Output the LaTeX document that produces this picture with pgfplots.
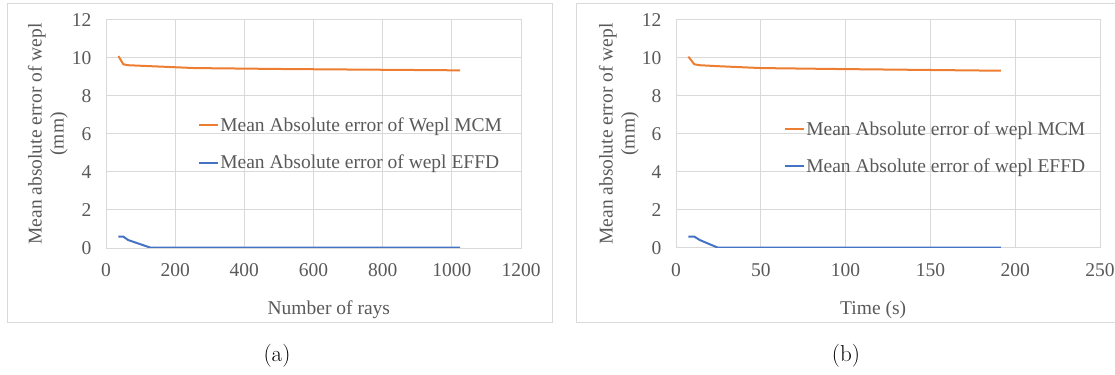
\documentclass[border=0pt]{standalone}
\usepackage{pgfplots}
\pgfplotsset{compat=1.18}
\usepackage{fontspec}
\newfontfamily\tnr{Liberation Serif}
\definecolor{txtc}{HTML}{595959}
\definecolor{gridc}{HTML}{D9D9D9}
\definecolor{orangec}{HTML}{ED7D31}
\definecolor{bluec}{HTML}{4472C4}
\pgfplotsset{
  excel/.style={
    scale only axis,
    ymin=0, ymax=12, ytick={0,2,...,12},
    grid=major,
    grid style={draw=gridc, line width=1bp},
    axis line style={draw=gridc, line width=1bp},
    tick style={draw=none},
    ticklabel style={font=\tnr\fontsize{19.5bp}{23bp}\selectfont, text=txtc},
    xticklabel style={yshift=-12bp},
    yticklabel style={xshift=-11bp},
    /pgf/number format/assume math mode=true,
    /pgf/number format/1000 sep={},
    label style={font=\tnr\fontsize{19.5bp}{22bp}\selectfont, text=txtc},
    ylabel style={align=center, anchor=center},
    xlabel style={anchor=center},
    legend style={draw=none, fill=none, anchor=west,
      font=\tnr\fontsize{19.5bp}{22bp}\selectfont, text=txtc,
      inner xsep=0pt, inner ysep=0pt, row sep=22bp,
      nodes={inner xsep=1bp, inner ysep=0pt}},
    legend cell align=left,
    legend image code/.code={\draw[#1, line width=2bp] (0bp,0bp) -- (19bp,0bp);},
    every axis plot/.append style={line width=2bp, no markers},
  }
}
\begin{document}
\begin{tikzpicture}
\path[use as bounding box] (0bp,0bp) rectangle (1115bp,375bp);
\draw[gridc, line width=1bp] (7.5bp,52bp) rectangle (552.5bp,371bp);
\draw[gridc, line width=1bp] (576.5bp,52bp) rectangle (1125bp,371bp);
\begin{axis}[excel, at={(106bp,127bp)}, anchor=south west, width=415bp, height=228bp,
  xmin=0, xmax=1200, xtick={0,200,...,1200},
  xlabel={Number of rays}, xlabel style={at={(axis description cs:0.537,-0.272)}},
  ylabel={Mean absolute error of wepl\\(mm)}, ylabel style={at={(axis description cs:-0.140,0.5)}},
  legend style={at={(axis description cs:0.222,0.456)}}]
\addplot[orangec] coordinates {(36,10.1) (50,9.67) (64,9.62) (128,9.57) (256,9.47) (512,9.42) (1024,9.35)};
\addlegendentry{Mean Absolute error of Wepl MCM}
\addplot[bluec] coordinates {(36,0.6) (50,0.6) (64,0.42) (128,0.02) (256,0.02) (512,0.02) (1024,0.02)};
\addlegendentry{Mean Absolute error of wepl EFFD}
\end{axis}
\begin{axis}[excel, at={(676bp,127bp)}, anchor=south west, width=424bp, height=228bp,
  xmin=0, xmax=250, xtick={0,50,...,250},
  xlabel={Time (s)}, xlabel style={at={(axis description cs:0.465,-0.272)}},
  ylabel={Mean absolute error of wepl\\(mm)}, ylabel style={at={(axis description cs:-0.135,0.5)}},
  legend style={at={(axis description cs:0.255,0.44)}}]
\addplot[orangec] coordinates {(7.3,10.07) (10.8,9.67) (14,9.62) (24.6,9.57) (50,9.47) (95,9.42) (191.6,9.33)};
\addlegendentry{Mean Absolute error of wepl MCM}
\addplot[bluec] coordinates {(7.3,0.6) (10.8,0.6) (14,0.42) (24.6,0.02) (50,0.02) (95,0.02) (191.6,0.02)};
\addlegendentry{Mean Absolute error of wepl EFFD}
\end{axis}
\node[font=\fontsize{23bp}{26bp}\selectfont] at (277bp,19bp) {(a)};
\node[font=\fontsize{23bp}{26bp}\selectfont] at (846bp,19bp) {(b)};
\end{tikzpicture}
\end{document}
